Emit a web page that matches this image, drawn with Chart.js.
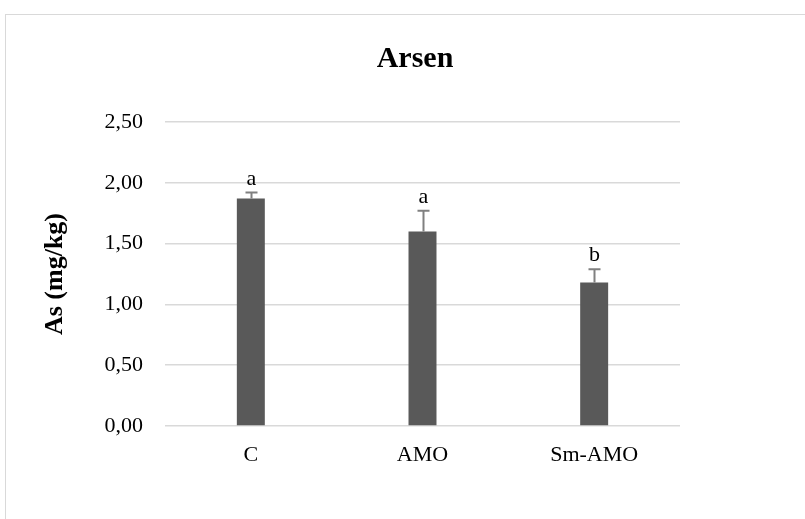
<!DOCTYPE html>
<html>
<head>
<meta charset="utf-8">
<script src="https://cdn.jsdelivr.net/npm/chart.js@4/dist/chart.umd.min.js"></script>
<style>
  html, body { margin: 0; padding: 0; background: #fff; overflow: hidden; }
  #wrap { position: relative; width: 805px; height: 519px; }
  #frame { position: absolute; left: 5px; top: 14px; width: 900px; height: 600px;
           border-left: 1px solid #d9d9d9; border-top: 1px solid #d9d9d9; }
  canvas { position: absolute; left: 0; top: 0; }
</style>
</head>
<body>
<div id="wrap">
  <div id="frame"></div>
  <canvas id="chart" width="805" height="519"></canvas>
</div>
<script>
// Arsenic content per treatment group
const categories = ['C', 'AMO', 'Sm-AMO'];
const means = [1.87, 1.60, 1.18];
const errors = [0.05, 0.17, 0.11];
const letters = ['a', 'a', 'b'];
const yTicks = [0, 0.5, 1, 1.5, 2, 2.5];

const serif = '"Liberation Serif", "Times New Roman", serif';

// Upper error whiskers and significance letters above each bar
const errorBarPlugin = {
  id: 'errorBars',
  afterDatasetsDraw(chart) {
    const ctx = chart.ctx;
    const meta = chart.getDatasetMeta(0);
    const y = chart.scales.y;
    ctx.save();
    meta.data.forEach((bar, i) => {
      const x = Math.round(bar.x) + 0.5;
      const yTop = y.getPixelForValue(means[i]);
      const yErr = y.getPixelForValue(means[i] + errors[i]);
      ctx.strokeStyle = '#808080';
      ctx.lineWidth = 2;
      ctx.beginPath();
      ctx.moveTo(x, yTop);
      ctx.lineTo(x, yErr);
      ctx.moveTo(x - 6, yErr);
      ctx.lineTo(x + 6, yErr);
      ctx.stroke();
      ctx.fillStyle = '#000';
      ctx.font = '22px ' + serif;
      ctx.textAlign = 'center';
      ctx.textBaseline = 'alphabetic';
      ctx.fillText(letters[i], x, yErr - 8);
    });
    ctx.restore();
  }
};

new Chart(document.getElementById('chart'), {
  type: 'bar',
  data: {
    labels: categories,
    datasets: [{
      data: means,
      backgroundColor: '#595959',
      borderWidth: 0,
      categoryPercentage: 1,
      barPercentage: 0.163
    }]
  },
  options: {
    responsive: false,
    animation: false,
    layout: { padding: { left: 25, right: 0, top: 0, bottom: 50 } },
    plugins: {
      legend: { display: false },
      tooltip: { enabled: false },
      title: {
        display: true,
        text: 'Arsen',
        color: '#000',
        font: { family: serif, size: 30, weight: 'bold' },
        padding: { top: 41, bottom: 45 }
      }
    },
    scales: {
      x: {
        afterFit(scale) { scale.height = 43; },
        grid: { display: false, drawTicks: false },
        border: { display: false },
        ticks: { color: '#000', font: { family: serif, size: 22 }, padding: 16 }
      },
      y: {
        min: 0,
        max: 2.5,
        afterBuildTicks(scale) { scale.ticks = yTicks.map(v => ({ value: v })); },
        afterFit(scale) { scale.width = 140; },
        grid: { color: '#d9d9d9', lineWidth: 1.5, drawTicks: false },
        border: { display: false },
        ticks: {
          color: '#000',
          font: { family: serif, size: 22 },
          padding: 22,
          callback: v => v.toFixed(2).replace('.', ',')
        },
        title: {
          display: true,
          text: 'As (mg/kg)',
          color: '#000',
          font: { family: serif, size: 26, weight: 'bold' },
          padding: { top: 15, bottom: 0 }
        }
      },
      // empty right-hand margin inside the outlined chart box
      yRight: {
        position: 'right',
        afterFit(scale) { scale.width = 125; },
        grid: { display: false, drawTicks: false },
        border: { display: false },
        ticks: { display: false }
      }
    }
  },
  plugins: [errorBarPlugin]
});
</script>
</body>
</html>
